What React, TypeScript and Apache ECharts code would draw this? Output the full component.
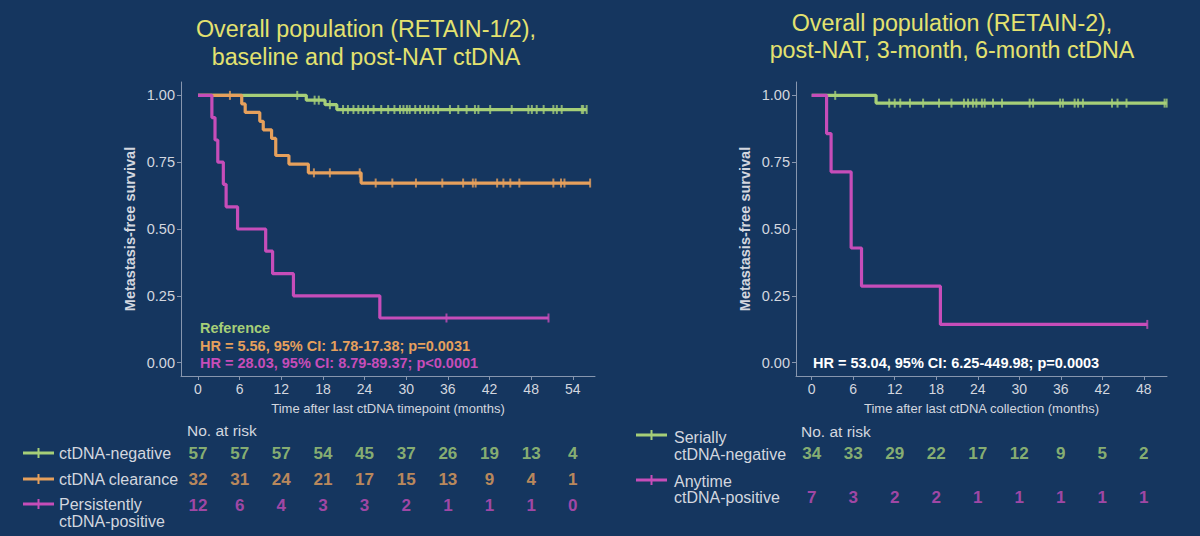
import React, { useEffect, useRef } from "react";
import * as echarts from "echarts";

// ---------- colours ----------
const BG = "#15365f";
const GREEN = "#a6cf78";
const ORANGE = "#e6a05c";
const MAGENTA = "#c64db9";
const TITLE = "#e4e26f";
const TEXT = "#d3d7df";
const AXIS = "#8796ae";

// ---------- left panel (RETAIN-1/2) ----------
const leftTicks = [0, 6, 12, 18, 24, 30, 36, 42, 48, 54];
const negSteps: [number, number][] = [[0, 1], [15.6, 0.982], [18.3, 0.965], [20.0, 0.947], [56.0, 0.947]];
const negCensor = [14.3, 16.8, 17.4, 19.0, 20.9, 21.6, 22.4, 23.1, 23.8, 24.5, 25.3, 26.4, 27.4, 28.3, 29.1, 29.6, 30.1, 30.5, 31.3, 32.0, 32.7, 33.2, 33.9, 34.6, 36.3, 37.5, 38.7, 39.9, 40.4, 42.1, 45.2, 47.6, 48.1, 48.8, 49.8, 51.2, 51.7, 52.4, 55.3, 55.5, 56.0];
const clrSteps: [number, number][] = [[0, 1], [6.3, 0.968], [6.8, 0.936], [8.9, 0.903], [9.4, 0.871], [10.6, 0.839], [11.2, 0.775], [13.1, 0.743], [15.9, 0.71], [23.5, 0.672], [56.5, 0.672]];
const clrCensor = [4.6, 16.7, 19.0, 23.3, 25.6, 28.0, 31.4, 35.2, 38.2, 39.6, 40.0, 43.1, 44.0, 45.0, 46.3, 51.2, 52.3, 52.8, 56.5];
const perSteps: [number, number][] = [[0, 1], [2.0, 0.917], [2.45, 0.833], [2.85, 0.75], [3.65, 0.667], [4.05, 0.583], [5.7, 0.5], [9.75, 0.417], [10.75, 0.333], [13.75, 0.25], [26.2, 0.167], [50.5, 0.167]];
const perCensor = [35.8, 50.5];
const riskNeg = [57, 57, 57, 54, 45, 37, 26, 19, 13, 4];
const riskClr = [32, 31, 24, 21, 17, 15, 13, 9, 4, 1];
const riskPer = [12, 6, 4, 3, 3, 2, 1, 1, 1, 0];

// ---------- right panel (RETAIN-2) ----------
const rightTicks = [0, 6, 12, 18, 24, 30, 36, 42, 48];
const serSteps: [number, number][] = [[0, 1], [9.3, 0.971], [51.3, 0.971]];
const serCensor = [3.4, 11.2, 12.0, 12.8, 14.2, 16.1, 18.4, 20.2, 22.0, 22.6, 23.3, 23.8, 24.6, 25.0, 26.2, 27.5, 31.5, 32.0, 35.9, 36.3, 38.0, 38.5, 39.2, 43.4, 44.2, 45.5, 51.0, 51.3];
const anySteps: [number, number][] = [[0, 1], [2.15, 0.857], [2.8, 0.714], [5.7, 0.429], [7.2, 0.286], [18.6, 0.143], [48.5, 0.143]];
const anyCensor = [48.5];
const riskSer = [34, 33, 29, 22, 17, 12, 9, 5, 2];
const riskAny = [7, 3, 2, 2, 1, 1, 1, 1, 1];

const yTicks = [0, 0.25, 0.5, 0.75, 1];

const FONT = "'Liberation Sans', Arial, sans-serif";

function levelAt(steps: [number, number][], t: number) {
  let v = steps[0][1];
  for (const [x, y] of steps) if (x <= t) v = y;
  return v;
}

function kmSeries(steps: [number, number][], censor: number[], color: string, idx: number, z: number) {
  return [
    {
      type: "line",
      step: "end",
      xAxisIndex: idx,
      yAxisIndex: idx,
      data: steps,
      showSymbol: false,
      lineStyle: { color, width: 3.2 },
      z,
    },
    {
      type: "scatter",
      xAxisIndex: idx,
      yAxisIndex: idx,
      data: censor.map((t) => [t, levelAt(steps, t)]),
      symbol: "rect",
      symbolSize: [2, 9],
      itemStyle: { color },
      z: z + 0.5,
    },
  ];
}

function riskSeries(vals: number[], ticks: number[], row: string, color: string, idx: number) {
  return {
    type: "scatter",
    xAxisIndex: idx,
    yAxisIndex: idx,
    symbolSize: 0,
    data: vals.map((v, i) => [ticks[i], row, v]),
    label: {
      show: true,
      position: "inside",
      formatter: (p: any) => String(p.value[2]),
      color,
      fontFamily: FONT,
      fontSize: 17,
      fontWeight: "bold",
    },
  };
}

const axisCommonX = (min: number, max: number, ticks: number[], gridIndex: number, name: string) => ({
  type: "value",
  gridIndex,
  min,
  max,
  name,
  nameLocation: "middle",
  nameGap: 26,
  nameTextStyle: { color: TEXT, fontSize: 13, fontFamily: FONT },
  axisLine: { show: true, onZero: false, lineStyle: { color: AXIS, width: 1 } },
  axisTick: { show: true, length: 4, customValues: ticks, lineStyle: { color: AXIS } },
  axisLabel: { color: TEXT, fontSize: 14, fontFamily: FONT, margin: 6, customValues: ticks },
  splitLine: { show: false },
});

const axisCommonY = (gridIndex: number) => ({
  type: "value",
  gridIndex,
  min: -0.05,
  max: 1.05,
  name: "Metastasis-free survival",
  nameLocation: "middle",
  nameGap: 44,
  nameTextStyle: { color: TEXT, fontSize: 14.5, fontWeight: "bold", fontFamily: FONT },
  axisLine: { show: true, onZero: false, lineStyle: { color: AXIS, width: 1 } },
  axisTick: { show: true, length: 4, customValues: yTicks, lineStyle: { color: AXIS } },
  axisLabel: {
    color: TEXT,
    fontSize: 14.5,
    fontFamily: FONT,
    margin: 6,
    customValues: yTicks,
    formatter: (v: number) => v.toFixed(2),
  },
  splitLine: { show: false },
});

function legendMark(x: number, y: number, color: string) {
  return [
    { type: "line", shape: { x1: x, y1: y, x2: x + 31, y2: y }, style: { stroke: color, lineWidth: 3 } },
    { type: "line", shape: { x1: x + 15.5, y1: y - 5, x2: x + 15.5, y2: y + 5 }, style: { stroke: color, lineWidth: 2 } },
  ];
}

function txt(x: number, y: number, text: string, color: string, size: number, weight = "normal", align = "left") {
  return {
    type: "text",
    x,
    y,
    style: { text, fill: color, fontSize: size, fontWeight: weight, fontFamily: FONT, align, verticalAlign: "middle" },
  };
}

export default function App() {
  const ref = useRef<HTMLDivElement>(null);
  useEffect(() => {
    if (!ref.current) return;
    const chart = echarts.init(ref.current, undefined, { renderer: "svg" });
    const option: any = {
      animation: false,
      backgroundColor: BG,
      grid: [
        { left: 181, top: 82, width: 414, height: 294 },
        { left: 796, top: 82, width: 371, height: 294 },
        { left: 181, top: 440, width: 414, height: 78 },
        { left: 796, top: 431, width: 371, height: 88 },
      ],
      xAxis: [
        axisCommonX(-2.45, 57.2, leftTicks, 0, "Time after last ctDNA timepoint (months)"),
        axisCommonX(-2.27, 51.35, rightTicks, 1, "Time after last ctDNA collection (months)"),
        { type: "value", gridIndex: 2, min: -2.45, max: 57.2, show: false, splitLine: { show: false } },
        { type: "value", gridIndex: 3, min: -2.27, max: 51.35, show: false, splitLine: { show: false } },
      ],
      yAxis: [
        axisCommonY(0),
        axisCommonY(1),
        { type: "category", gridIndex: 2, inverse: true, data: ["neg", "clr", "per"], show: false },
        { type: "category", gridIndex: 3, inverse: true, data: ["ser", "any"], show: false },
      ],
      series: [
        ...kmSeries(negSteps, negCensor, GREEN, 0, 2),
        ...kmSeries(clrSteps, clrCensor, ORANGE, 0, 3),
        ...kmSeries(perSteps, perCensor, MAGENTA, 0, 4),
        ...kmSeries(serSteps, serCensor, GREEN, 1, 2),
        ...kmSeries(anySteps, anyCensor, MAGENTA, 1, 4),
        riskSeries(riskNeg, leftTicks, "neg", GREEN, 2),
        riskSeries(riskClr, leftTicks, "clr", ORANGE, 2),
        riskSeries(riskPer, leftTicks, "per", MAGENTA, 2),
        riskSeries(riskSer, rightTicks, "ser", GREEN, 3),
        riskSeries(riskAny, rightTicks, "any", MAGENTA, 3),
      ],
      graphic: [
        txt(366, 29, "Overall population (RETAIN-1/2),", TITLE, 23.3, "normal", "center"),
        txt(366, 57, "baseline and post-NAT ctDNA", TITLE, 23.3, "normal", "center"),
        txt(952, 23, "Overall population (RETAIN-2),", TITLE, 23.3, "normal", "center"),
        txt(952, 50, "post-NAT, 3-month, 6-month ctDNA", TITLE, 23.3, "normal", "center"),
        txt(200, 328, "Reference", GREEN, 14.5, "bold"),
        txt(200, 345.5, "HR = 5.56, 95% CI: 1.78-17.38; p=0.0031", ORANGE, 14.5, "bold"),
        txt(200, 363, "HR = 28.03, 95% CI: 8.79-89.37; p<0.0001", MAGENTA, 14.5, "bold"),
        txt(813, 363, "HR = 53.04, 95% CI: 6.25-449.98; p=0.0003", "#ffffff", 14.5, "bold"),
        txt(187, 430, "No. at risk", TEXT, 15.5),
        txt(801, 431, "No. at risk", TEXT, 15.5),
        ...legendMark(23, 453, GREEN),
        ...legendMark(23, 479, ORANGE),
        ...legendMark(23, 504, MAGENTA),
        txt(59, 453, "ctDNA-negative", TEXT, 16),
        txt(59, 479, "ctDNA clearance", TEXT, 16),
        txt(59, 504, "Persistently", TEXT, 16),
        txt(59, 521.5, "ctDNA-positive", TEXT, 16),
        ...legendMark(636, 435, GREEN),
        ...legendMark(636, 480, MAGENTA),
        txt(674, 437, "Serially", TEXT, 16),
        txt(674, 454, "ctDNA-negative", TEXT, 16),
        txt(674, 481, "Anytime", TEXT, 16),
        txt(674, 497.5, "ctDNA-positive", TEXT, 16),
      ],
    };
    chart.setOption(option);
    return () => chart.dispose();
  }, []);
  return (
    <div
      ref={ref}
      style={{ position: "fixed", left: 0, top: 0, width: 1200, height: 536, background: BG }}
    />
  );
}
